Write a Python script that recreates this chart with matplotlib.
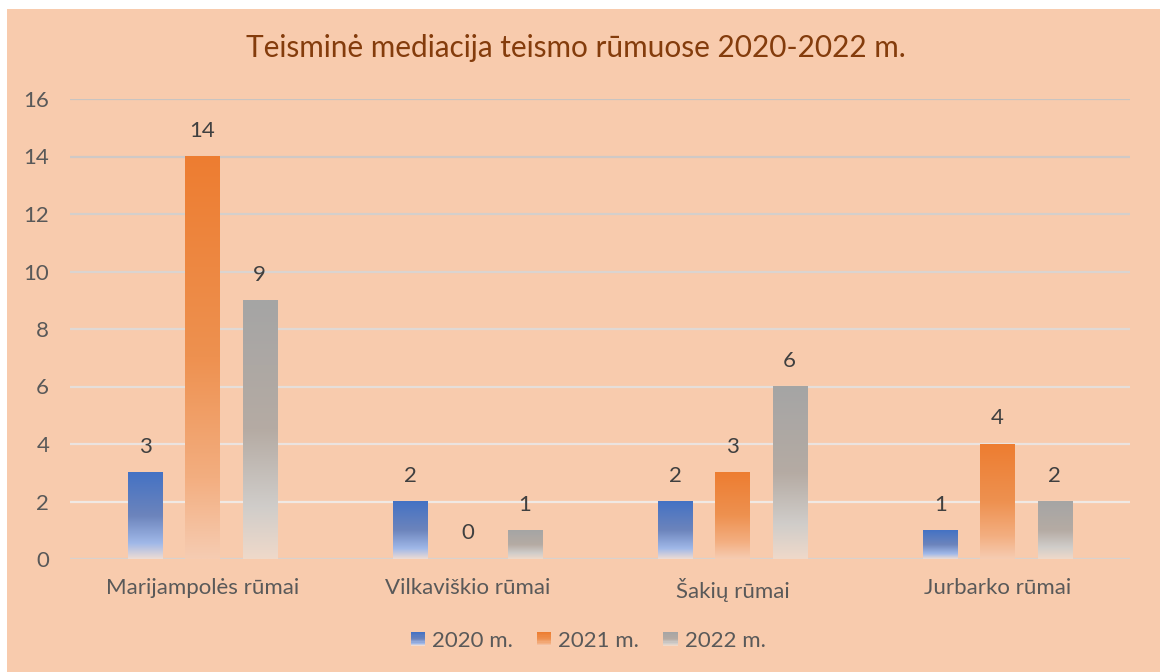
import numpy as np
import matplotlib
matplotlib.use("Agg")
import matplotlib.pyplot as plt
from matplotlib.colors import to_rgb
from matplotlib.patches import Rectangle
from matplotlib.legend_handler import HandlerBase

plt.rcParams['font.family'] = ['Lato', 'DejaVu Sans']

title = "Teisminė mediacija teismo rūmuose 2020-2022 m."
categories = ["Marijampolės rūmai", "Vilkaviškio rūmai", "Šakių rūmai", "Jurbarko rūmai"]
series_names = ["2020 m.", "2021 m.", "2022 m."]
v2020 = [3, 2, 2, 1]
v2021 = [14, 0, 3, 4]
v2022 = [9, 1, 6, 2]
yticks = [0, 2, 4, 6, 8, 10, 12, 14, 16]

values = [v2020, v2021, v2022]
# gradient stops (t from top=0 to bottom=1)
stops = [
    [(0.0, "#4472C4"), (0.5, "#6C84BC"), (0.82, "#A0B8E8"), (1.0, "#EEDCD4")],
    [(0.0, "#ED7D31"), (0.5, "#EE9150"), (0.8, "#F3AE80"), (1.0, "#F6CCB2")],
    [(0.0, "#A5A5A5"), (0.5, "#B5ABA3"), (0.8, "#D0CDCA"), (1.0, "#EFD9C9")],
]

def grad(st, n=200):
    t = np.linspace(0, 1, n)
    ts = [s[0] for s in st]
    cs = np.array([to_rgb(s[1]) for s in st])
    out = np.stack([np.interp(t, ts, cs[:, k]) for k in range(3)], axis=1)
    return out

bg = "#F8CBAD"
fs = 16
fig = plt.figure(figsize=(11.6, 6.72), dpi=100, facecolor="white")
fig.patches.append(Rectangle((7 / 1160, 0), 1 - 7 / 1160, 1 - 9 / 672, transform=fig.transFigure,
                             facecolor=bg, edgecolor="none", zorder=-10))
ax = fig.add_axes([70 / 1160, (672 - 559) / 672, (1130 - 70) / 1160, 460 / 672])
ax.set_zorder(1)
ax.set_facecolor("none")
ax.set_xlim(-0.5, 3.5)
ax.set_ylim(0, 16)

# gridlines with gradient from grey (top) to white-ish (bottom)
top_c = np.array(to_rgb("#C9C4C1"))
bot_c = np.array(to_rgb("#F6EEE9"))
for y in yticks:
    f = y / 16
    c = bot_c * (1 - f) + top_c * f
    if y == 0:
        c = np.array(to_rgb("#D9D2CE"))
    ax.axhline(y, color=c, lw=1.6, zorder=1)

offsets = [-0.216, 0.0, 0.216]
width = 0.129
x = np.arange(len(categories))
tc = "#404040"
for i, vals in enumerate(values):
    g = grad(stops[i])
    bars = ax.bar(x + offsets[i], vals, width=width, color="none", edgecolor="none", zorder=2)
    for b, v in zip(bars, vals):
        if v > 0:
            ax.imshow(g[:, None, :], extent=[b.get_x(), b.get_x() + b.get_width(), 0, v],
                      aspect="auto", origin="upper", zorder=2, interpolation="bilinear")
        ax.annotate(str(v), (b.get_x() + b.get_width() / 2, v), xytext=(0, 18.5),
                    textcoords="offset points", ha="center", va="center",
                    fontsize=fs, color=tc)

ax.set_xticks(x)
ax.set_xticklabels(categories, fontsize=fs, color="#595959")
ax.set_yticks(yticks)
ax.set_yticklabels([str(t) for t in yticks], fontsize=fs, color="#595959")
ax.tick_params(axis="both", length=0)
ax.tick_params(axis="x", pad=14)
ax.tick_params(axis="y", pad=15)
for s in ax.spines.values():
    s.set_visible(False)

fig.text(576 / 1160, 1 - 48 / 672, title, ha="center", va="center", fontsize=21.4,
         color="#843C0C")


class GradHandler(HandlerBase):
    def __init__(self, st):
        super().__init__()
        self.st = st

    def create_artists(self, legend, orig_handle, xdescent, ydescent, width, height, fontsize, trans):
        g = grad(self.st, 12)
        arts = []
        size = min(width, height) * 1.0
        x0 = -xdescent + (width - size)
        y0 = -ydescent + (height - size) / 2
        n = len(g)
        for k in range(n):
            r = Rectangle((x0, y0 + size * (n - 1 - k) / n), size, size / n + 0.2,
                          facecolor=g[k], edgecolor="none", transform=trans)
            arts.append(r)
        return arts


handles = [Rectangle((0, 0), 1, 1) for _ in series_names]
hmap = {h: GradHandler(st) for h, st in zip(handles, stops)}
leg = fig.legend(handles, series_names, handler_map=hmap, loc="center",
                 bbox_to_anchor=(588 / 1160, 1 - 641 / 672), ncol=3, frameon=False,
                 fontsize=fs, handlelength=0.65, handleheight=0.65, handletextpad=0.3,
                 columnspacing=1.1, labelcolor="#595959")

fig.savefig("out.png", dpi=100, facecolor=fig.get_facecolor())
